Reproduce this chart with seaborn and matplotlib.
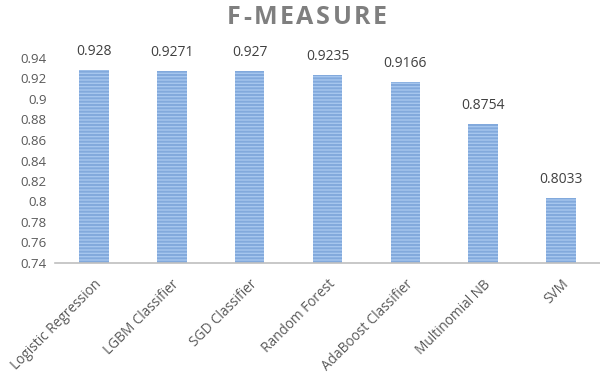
import matplotlib
matplotlib.use("Agg")
import matplotlib.pyplot as plt
import seaborn as sns
import pandas as pd

models = ["Logistic Regression", "LGBM Classifier", "SGD Classifier", "Random Forest",
          "AdaBoost Classifier", "Multinomial NB", "SVM"]
f_measure = [0.928, 0.9271, 0.927, 0.9235, 0.9166, 0.8754, 0.8033]
y_ticks = [0.74, 0.76, 0.78, 0.8, 0.82, 0.84, 0.86, 0.88, 0.9, 0.92, 0.94]
title = "F-MEASURE"

sns.set_theme(style="white")
plt.rcParams["font.family"] = ["Open Sans", "DejaVu Sans"]
plt.rcParams["hatch.linewidth"] = 1.4

df = pd.DataFrame({"model": models, "f": f_measure})

fig = plt.figure(figsize=(6.0, 3.74), dpi=100)
ax = fig.add_axes([55 / 600, (374 - 263) / 374, 545 / 600, (263 - 58) / 374])

sns.barplot(data=df, x="model", y="f", ax=ax, width=0.38,
            color="#a6c6ee", saturation=1, edgecolor="#82a9dc", linewidth=0)
for p in ax.patches:
    p.set_hatch("-----")

ax.set_ylim(0.74, 0.94)
ax.set_yticks(y_ticks)
ax.set_yticklabels([f"{t:g}" for t in y_ticks], fontsize=9.5, color="#595959")
ax.set_xlim(-0.5, len(models) - 0.5)
ax.set_xticks(range(len(models)))
ax.set_xticklabels(models, rotation=45, ha="right", rotation_mode="anchor",
                   fontsize=9.8, color="#595959")
ax.tick_params(axis="x", length=0, pad=10)
ax.tick_params(axis="y", length=0, pad=6)
ax.set_xlabel("")
ax.set_ylabel("")

for side in ["top", "right", "left"]:
    ax.spines[side].set_visible(False)
ax.spines["bottom"].set_color("#bfbfbf")
ax.spines["bottom"].set_linewidth(1.2)

ax.bar_label(ax.containers[0], labels=[f"{v:g}" for v in f_measure],
             padding=8, fontsize=10, color="#404040")

# Title with extra letter tracking
renderer = fig.canvas.get_renderer()
tracking = 2.5  # px between letters
pieces = []
for ch in title:
    t = fig.text(0, 0, ch, fontsize=18, fontweight="bold", color="#7f7f7f",
                 ha="left", va="center")
    w = t.get_window_extent(renderer).width
    pieces.append((t, w))
total = sum(w for _, w in pieces) + tracking * (len(pieces) - 1)
x = 307 - total / 2
for t, w in pieces:
    t.set_position((x / 600, 1 - 18 / 374))
    x += w + tracking

fig.savefig("out.png", dpi=100)
